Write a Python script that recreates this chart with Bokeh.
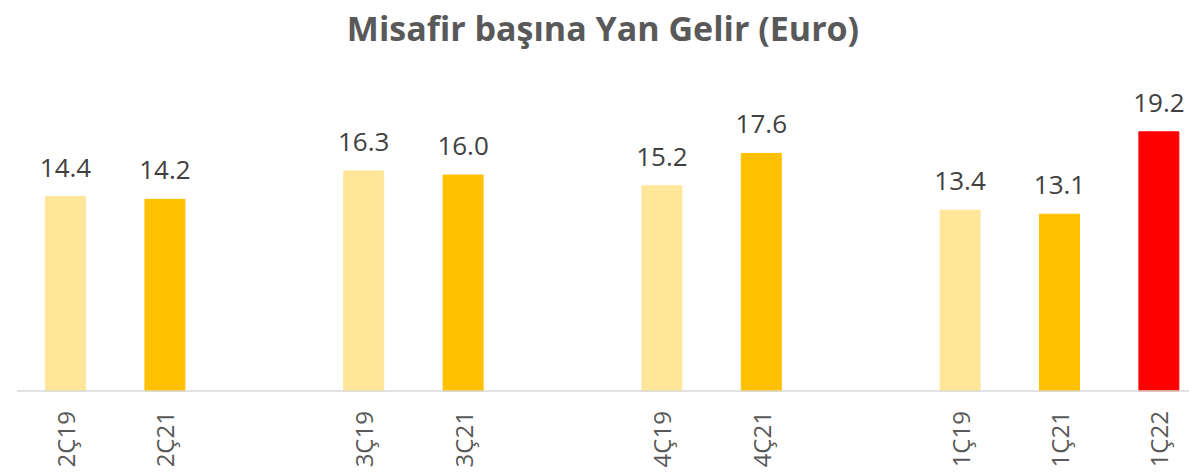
import math
from bokeh.plotting import figure
from bokeh.models import ColumnDataSource, LabelSet, Title, Span
from bokeh.core.properties import value
from bokeh.embed import file_html
from bokeh.resources import INLINE

# ---- data ----
labels = ["2Ç19", "2Ç21", "3Ç19", "3Ç21", "4Ç19", "4Ç21", "1Ç19", "1Ç21", "1Ç22"]
values = [14.4, 14.2, 16.3, 16.0, 15.2, 17.6, 13.4, 13.1, 19.2]
year_colors = {"19": "#FFE699", "21": "#FFC000", "22": "#FF0000"}
title_text = "Misafir başına Yan Gelir (Euro)"

# ---- derived layout: one empty slot between quarter groups ----
xs = []
g = 0
prev = None
for i, lab in enumerate(labels):
    q = lab[:2]
    if prev is not None and q != prev:
        g += 1
    prev = q
    xs.append(i + g)
colors = [year_colors[l[-2:]] for l in labels]
texts = [f"{v:.1f}" for v in values]
zeros = [0] * len(values)

src = ColumnDataSource(dict(x=xs, top=values, color=colors, txt=texts, lab=labels, zero=zeros))

p = figure(width=1189, height=472, output_backend="svg", toolbar_location=None,
           x_range=(-0.493, 11.308), y_range=(-6.03, 25.0),
           x_axis_location=None, y_axis_location=None,
           min_border_left=16, min_border_right=0, min_border_top=0, min_border_bottom=0)
p.title = Title(text=title_text, align="center", text_font="Open Sans",
                text_font_size="34px", text_font_style="bold", text_color="#595959",
                offset=-21, standoff=5)

p.vbar(x="x", top="top", width=0.402, bottom=0, color="color", source=src)

# category axis line
p.add_layout(Span(location=0, dimension="width", line_color="#D9D9D9", line_width=1.5))

# value labels
p.add_layout(LabelSet(x="x", y="top", text="txt", source=src, text_align="center",
                      text_baseline="alphabetic", y_offset=20, text_font=value("Open Sans"),
                      text_font_size="26px", text_color="#404040"))

# category (tick) labels, rotated
p.add_layout(LabelSet(x="x", y="zero", text="lab", source=src, angle=math.pi / 2,
                      text_align="right", text_baseline="middle", y_offset=-20,
                      text_font=value("Open Sans"), text_font_size="24px",
                      text_color="#595959"))

p.xgrid.visible = False
p.ygrid.visible = False
p.outline_line_color = None
p.background_fill_color = "white"
p.border_fill_color = "white"

open("out.html", "w").write(file_html(p, INLINE))
